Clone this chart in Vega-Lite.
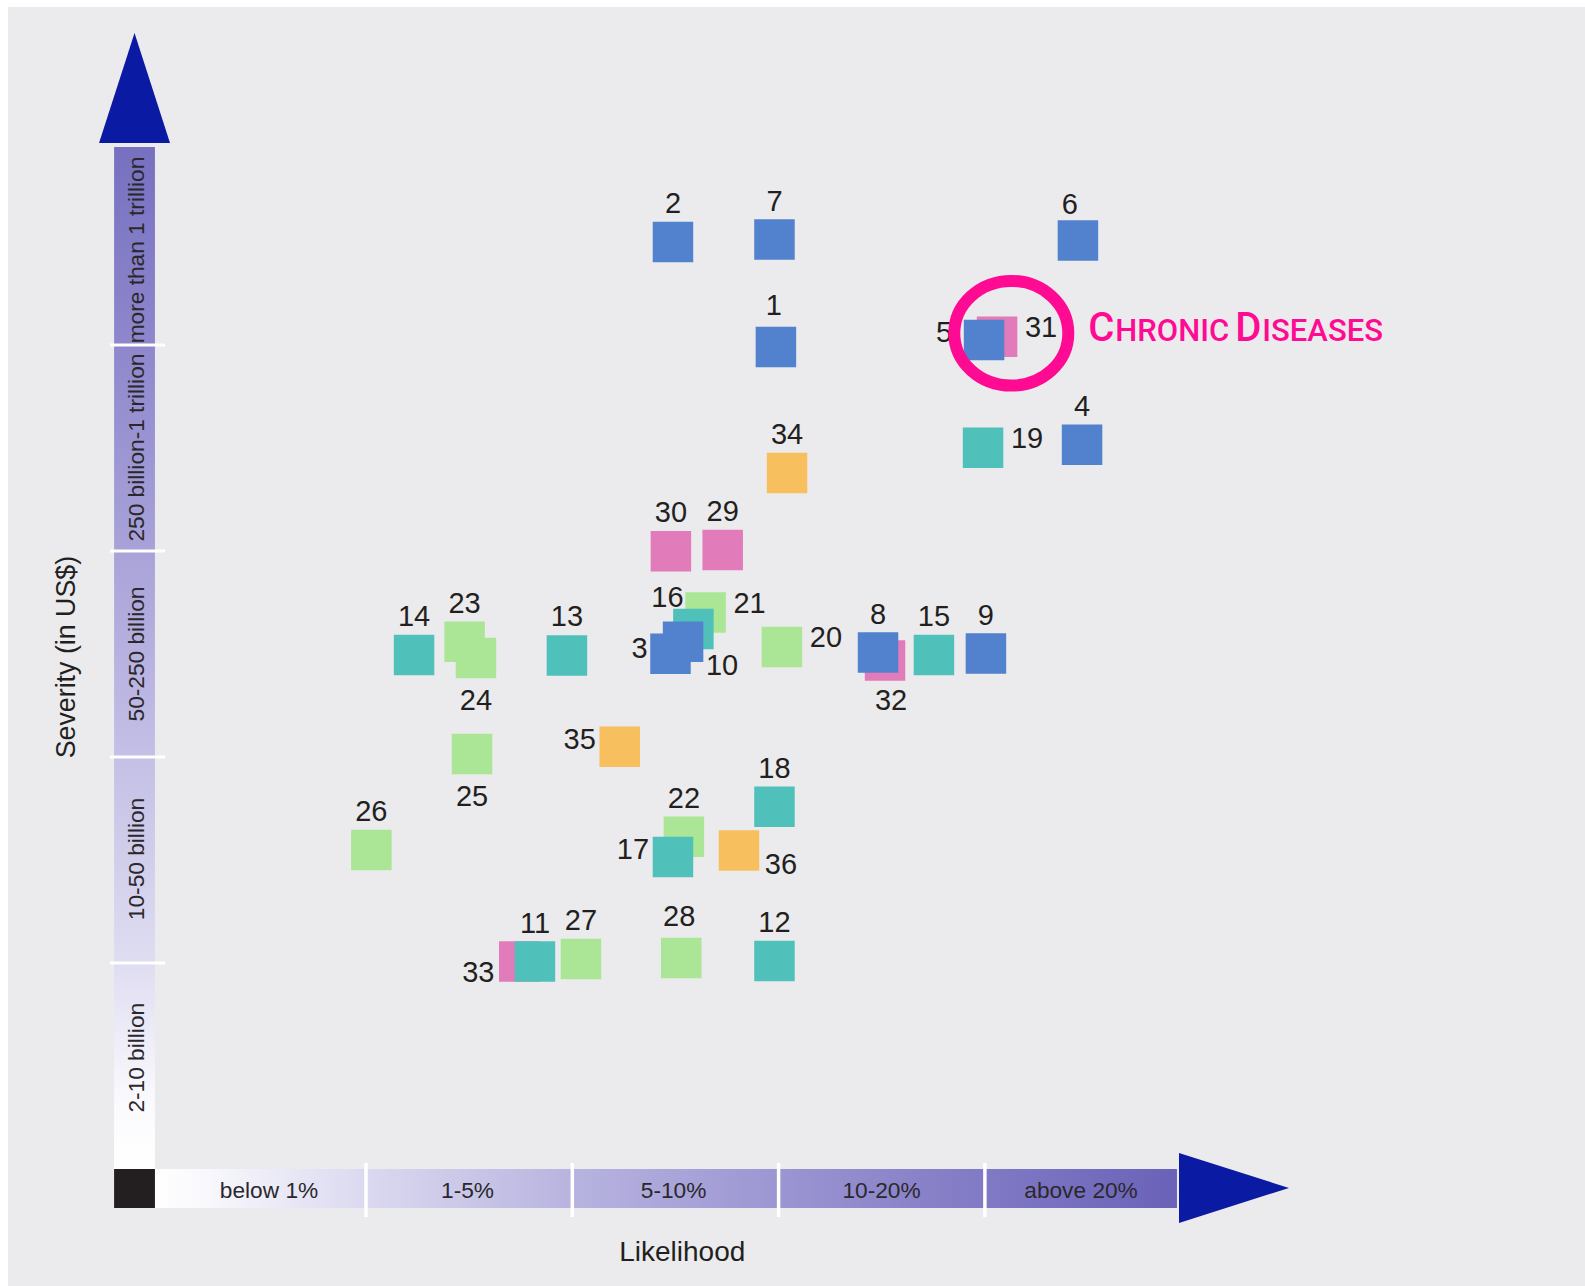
{
  "$schema": "https://vega.github.io/schema/vega-lite/v6.json",
  "width": 1577,
  "height": 1279,
  "autosize": {"type": "none"},
  "padding": {"left": 8, "top": 7, "right": 0, "bottom": 0},
  "background": "#ffffff",
  "config": {"view": {"stroke": null, "fill": "#EBEBED"}},
  "datasets": {
    "risks": [
      {"id": 29, "category": "Societal", "likelihood": 2.729, "severity": 3.005},
      {"id": 30, "category": "Societal", "likelihood": 2.478, "severity": 2.999},
      {"id": 31, "category": "Societal", "likelihood": 4.059, "severity": 4.040},
      {"id": 32, "category": "Societal", "likelihood": 3.516, "severity": 2.468},
      {"id": 33, "category": "Societal", "likelihood": 1.743, "severity": 1.007},
      {"id": 20, "category": "Environmental", "likelihood": 3.016, "severity": 2.534},
      {"id": 21, "category": "Environmental", "likelihood": 2.646, "severity": 2.701},
      {"id": 22, "category": "Environmental", "likelihood": 2.541, "severity": 1.613},
      {"id": 23, "category": "Environmental", "likelihood": 1.478, "severity": 2.560},
      {"id": 24, "category": "Environmental", "likelihood": 1.533, "severity": 2.481},
      {"id": 25, "category": "Environmental", "likelihood": 1.514, "severity": 2.015},
      {"id": 26, "category": "Environmental", "likelihood": 1.026, "severity": 1.549},
      {"id": 27, "category": "Environmental", "likelihood": 2.042, "severity": 1.019},
      {"id": 28, "category": "Environmental", "likelihood": 2.528, "severity": 1.024},
      {"id": 11, "category": "Geopolitical", "likelihood": 1.819, "severity": 1.007},
      {"id": 12, "category": "Geopolitical", "likelihood": 2.980, "severity": 1.010},
      {"id": 13, "category": "Geopolitical", "likelihood": 1.974, "severity": 2.493},
      {"id": 14, "category": "Geopolitical", "likelihood": 1.233, "severity": 2.495},
      {"id": 15, "category": "Geopolitical", "likelihood": 3.753, "severity": 2.495},
      {"id": 16, "category": "Geopolitical", "likelihood": 2.587, "severity": 2.621},
      {"id": 17, "category": "Geopolitical", "likelihood": 2.488, "severity": 1.515},
      {"id": 18, "category": "Geopolitical", "likelihood": 2.980, "severity": 1.759},
      {"id": 19, "category": "Geopolitical", "likelihood": 3.991, "severity": 3.501},
      {"id": 1, "category": "Economic", "likelihood": 2.987, "severity": 3.990},
      {"id": 2, "category": "Economic", "likelihood": 2.488, "severity": 4.500},
      {"id": 3, "category": "Economic", "likelihood": 2.476, "severity": 2.501},
      {"id": 4, "category": "Economic", "likelihood": 4.471, "severity": 3.516},
      {"id": 5, "category": "Economic", "likelihood": 3.996, "severity": 4.024},
      {"id": 6, "category": "Economic", "likelihood": 4.451, "severity": 4.507},
      {"id": 7, "category": "Economic", "likelihood": 2.980, "severity": 4.512},
      {"id": 8, "category": "Economic", "likelihood": 3.482, "severity": 2.507},
      {"id": 9, "category": "Economic", "likelihood": 4.005, "severity": 2.502},
      {"id": 10, "category": "Economic", "likelihood": 2.537, "severity": 2.559},
      {"id": 34, "category": "Technological", "likelihood": 3.041, "severity": 3.379},
      {"id": 35, "category": "Technological", "likelihood": 2.230, "severity": 2.050},
      {"id": 36, "category": "Technological", "likelihood": 2.808, "severity": 1.546}
    ],
    "bandsX": [
      {"label": "below 1%", "start": 0, "end": 1, "mid": 0.530},
      {"label": "1-5%", "start": 1, "end": 2, "mid": 1.492},
      {"label": "5-10%", "start": 2, "end": 3, "mid": 2.491},
      {"label": "10-20%", "start": 3, "end": 4, "mid": 3.499},
      {"label": "above 20%", "start": 4, "end": 4.931, "mid": 4.466}
    ],
    "bandsY": [
      {"label": "2-10 billion", "start": 0, "end": 1, "mid": 0.540},
      {"label": "10-50 billion", "start": 1, "end": 2, "mid": 1.505},
      {"label": "50-250 billion", "start": 2, "end": 3, "mid": 2.500},
      {"label": "250 billion-1 trillion", "start": 3, "end": 4, "mid": 3.502},
      {"label": "more than 1 trillion", "start": 4, "end": 4.961, "mid": 4.461}
    ],
    "axisBars": [
      {"part": "likelihood", "x0": -0.023, "x1": 4.931, "y0": -0.189, "y1": 0.0},
      {"part": "severity", "x0": -0.221, "x1": -0.023, "y0": 0.0, "y1": 4.961},
      {"part": "origin", "x0": -0.221, "x1": -0.023, "y0": -0.189, "y1": 0.0}
    ],
    "arrows": [
      {"arrow": "severity", "pos": 4.981, "from": -0.294, "to": 0.050},
      {"arrow": "severity", "pos": 5.515, "from": -0.122, "to": -0.122},
      {"arrow": "likelihood", "pos": 4.941, "from": -0.262, "to": 0.078},
      {"arrow": "likelihood", "pos": 5.474, "from": -0.092, "to": -0.092}
    ],
    "titles": [
      {"title": "Likelihood", "likelihood": 2.533, "severity": -0.445},
      {"title": "Severity (in US$)", "likelihood": -0.41, "severity": 2.485}
    ],
    "highlight": [
      {"note": "Chronic diseases", "likelihood": 4.128, "severity": 4.057}
    ]
  },
  "layer": [
    {
      "data": {"name": "axisBars"},
      "transform": [{"filter": "datum.part === 'likelihood'"}],
      "mark": {"type": "rect", "fill": {"gradient": "linear", "x1": 0, "y1": 0, "x2": 1, "y2": 0, "stops": [
        {"offset": 0, "color": "#ffffff"},
        {"offset": 0.05, "color": "#f8f8fd"},
        {"offset": 0.2, "color": "#dcdaf0"},
        {"offset": 0.4, "color": "#b9b5e0"},
        {"offset": 0.6, "color": "#9d97d3"},
        {"offset": 0.8, "color": "#827bc5"},
        {"offset": 1, "color": "#6a62b8"}]}},
      "encoding": {
        "x": {"field": "x0", "type": "quantitative", "scale": {"domain": [-0.7353, 6.9089], "nice": false, "zero": false}, "axis": null},
        "x2": {"field": "x1"},
        "y": {"field": "y0", "type": "quantitative", "scale": {"domain": [-0.568, 5.6408], "nice": false, "zero": false}, "axis": null},
        "y2": {"field": "y1"}
      }
    },
    {
      "data": {"name": "axisBars"},
      "transform": [{"filter": "datum.part === 'severity'"}],
      "mark": {"type": "rect", "fill": {"gradient": "linear", "x1": 0, "y1": 1, "x2": 0, "y2": 0, "stops": [
        {"offset": 0, "color": "#ffffff"},
        {"offset": 0.06, "color": "#fbfbfe"},
        {"offset": 0.2, "color": "#dfddf1"},
        {"offset": 0.4, "color": "#c4c0e6"},
        {"offset": 0.6, "color": "#a9a3d9"},
        {"offset": 0.8, "color": "#8f88cd"},
        {"offset": 1, "color": "#7770c0"}]}},
      "encoding": {
        "x": {"field": "x0", "type": "quantitative", "scale": {"domain": [-0.7353, 6.9089], "nice": false, "zero": false}, "axis": null},
        "x2": {"field": "x1"},
        "y": {"field": "y0", "type": "quantitative", "scale": {"domain": [-0.568, 5.6408], "nice": false, "zero": false}, "axis": null},
        "y2": {"field": "y1"}
      }
    },
    {
      "data": {"name": "axisBars"},
      "transform": [{"filter": "datum.part === 'origin'"}],
      "mark": {"type": "rect", "fill": "#231f20"},
      "encoding": {
        "x": {"field": "x0", "type": "quantitative", "scale": {"domain": [-0.7353, 6.9089], "nice": false, "zero": false}, "axis": null},
        "x2": {"field": "x1"},
        "y": {"field": "y0", "type": "quantitative", "scale": {"domain": [-0.568, 5.6408], "nice": false, "zero": false}, "axis": null},
        "y2": {"field": "y1"}
      }
    },
    {
      "data": {"name": "bandsX"},
      "transform": [{"filter": "datum.start > 0"}],
      "mark": {"type": "rule", "color": "#ffffff", "strokeWidth": 3.5},
      "encoding": {
        "x": {"field": "start", "type": "quantitative", "scale": {"domain": [-0.7353, 6.9089], "nice": false, "zero": false}, "axis": null},
        "y": {"datum": -0.233, "type": "quantitative", "scale": {"domain": [-0.568, 5.6408], "nice": false, "zero": false}, "axis": null},
        "y2": {"datum": 0.029}
      }
    },
    {
      "data": {"name": "bandsY"},
      "transform": [{"filter": "datum.start > 0"}],
      "mark": {"type": "rule", "color": "#ffffff", "strokeWidth": 3},
      "encoding": {
        "y": {"field": "start", "type": "quantitative", "scale": {"domain": [-0.568, 5.6408], "nice": false, "zero": false}, "axis": null},
        "x": {"datum": -0.241, "type": "quantitative", "scale": {"domain": [-0.7353, 6.9089], "nice": false, "zero": false}, "axis": null},
        "x2": {"datum": 0.026}
      }
    },
    {
      "data": {"name": "bandsX"},
      "mark": {"type": "text", "font": "Liberation Sans", "fontSize": 22.7, "color": "#2a282c", "align": "center", "baseline": "alphabetic"},
      "encoding": {
        "x": {"field": "mid", "type": "quantitative", "scale": {"domain": [-0.7353, 6.9089], "nice": false, "zero": false}, "axis": null},
        "y": {"datum": -0.142, "type": "quantitative", "scale": {"domain": [-0.568, 5.6408], "nice": false, "zero": false}, "axis": null},
        "text": {"field": "label", "type": "nominal"}
      }
    },
    {
      "data": {"name": "bandsY"},
      "mark": {"type": "text", "font": "Liberation Sans", "fontSize": 22.7, "color": "#2a282c", "align": "center", "baseline": "alphabetic", "angle": 270},
      "encoding": {
        "y": {"field": "mid", "type": "quantitative", "scale": {"domain": [-0.568, 5.6408], "nice": false, "zero": false}, "axis": null},
        "x": {"datum": -0.076, "type": "quantitative", "scale": {"domain": [-0.7353, 6.9089], "nice": false, "zero": false}, "axis": null},
        "text": {"field": "label", "type": "nominal"}
      }
    },
    {
      "data": {"name": "arrows"},
      "transform": [{"filter": "datum.arrow === 'severity'"}],
      "mark": {"type": "area", "orient": "horizontal", "color": "#0A1AA3", "opacity": 1},
      "encoding": {
        "y": {"field": "pos", "type": "quantitative", "scale": {"domain": [-0.568, 5.6408], "nice": false, "zero": false}, "axis": null},
        "x": {"field": "from", "type": "quantitative", "scale": {"domain": [-0.7353, 6.9089], "nice": false, "zero": false}, "axis": null},
        "x2": {"field": "to"}
      }
    },
    {
      "data": {"name": "arrows"},
      "transform": [{"filter": "datum.arrow === 'likelihood'"}],
      "mark": {"type": "area", "orient": "vertical", "color": "#0A1AA3", "opacity": 1},
      "encoding": {
        "x": {"field": "pos", "type": "quantitative", "scale": {"domain": [-0.7353, 6.9089], "nice": false, "zero": false}, "axis": null},
        "y": {"field": "from", "type": "quantitative", "scale": {"domain": [-0.568, 5.6408], "nice": false, "zero": false}, "axis": null},
        "y2": {"field": "to"}
      }
    },
    {
      "data": {"name": "titles"},
      "transform": [{"filter": "datum.title === 'Likelihood'"}],
      "mark": {"type": "text", "font": "Liberation Sans", "fontSize": 28, "color": "#231f20", "align": "center", "baseline": "alphabetic"},
      "encoding": {
        "x": {"field": "likelihood", "type": "quantitative", "scale": {"domain": [-0.7353, 6.9089], "nice": false, "zero": false}, "axis": null},
        "y": {"field": "severity", "type": "quantitative", "scale": {"domain": [-0.568, 5.6408], "nice": false, "zero": false}, "axis": null},
        "text": {"field": "title", "type": "nominal"}
      }
    },
    {
      "data": {"name": "titles"},
      "transform": [{"filter": "datum.title !== 'Likelihood'"}],
      "mark": {"type": "text", "font": "Liberation Sans", "fontSize": 26.8, "color": "#231f20", "align": "center", "baseline": "alphabetic", "angle": 270},
      "encoding": {
        "x": {"field": "likelihood", "type": "quantitative", "scale": {"domain": [-0.7353, 6.9089], "nice": false, "zero": false}, "axis": null},
        "y": {"field": "severity", "type": "quantitative", "scale": {"domain": [-0.568, 5.6408], "nice": false, "zero": false}, "axis": null},
        "text": {"field": "title", "type": "nominal"}
      }
    },
    {
      "data": {"name": "risks"},
      "mark": {"type": "point", "shape": "square", "size": 1640, "filled": true, "opacity": 1},
      "encoding": {
        "x": {"field": "likelihood", "type": "quantitative", "scale": {"domain": [-0.7353, 6.9089], "nice": false, "zero": false}, "axis": null},
        "y": {"field": "severity", "type": "quantitative", "scale": {"domain": [-0.568, 5.6408], "nice": false, "zero": false}, "axis": null},
        "color": {"field": "category", "type": "nominal", "scale": {"domain": ["Economic", "Geopolitical", "Environmental", "Societal", "Technological"], "range": ["#5281CD", "#50C0BA", "#AAE695", "#E27BBA", "#F8BF5E"]}, "legend": null}
      }
    },
    {
      "data": {"name": "risks"},
      "transform": [{"filter": {"field": "id", "oneOf": [2, 4, 7, 8, 9, 11, 12, 13, 14, 15, 18, 22, 23, 26, 27, 29, 30, 34]}}],
      "mark": {"type": "text", "font": "Liberation Sans", "fontSize": 29, "color": "#231f20", "align": "center", "baseline": "middle", "dy": -38},
      "encoding": {
        "x": {"field": "likelihood", "type": "quantitative", "scale": {"domain": [-0.7353, 6.9089], "nice": false, "zero": false}, "axis": null},
        "y": {"field": "severity", "type": "quantitative", "scale": {"domain": [-0.568, 5.6408], "nice": false, "zero": false}, "axis": null},
        "text": {"field": "id", "type": "nominal"}
      }
    },
    {
      "data": {"name": "risks"},
      "transform": [{"filter": {"field": "id", "oneOf": [1, 28]}}],
      "mark": {"type": "text", "font": "Liberation Sans", "fontSize": 29, "color": "#231f20", "align": "center", "baseline": "middle", "dx": -2, "dy": -41},
      "encoding": {
        "x": {"field": "likelihood", "type": "quantitative", "scale": {"domain": [-0.7353, 6.9089], "nice": false, "zero": false}, "axis": null},
        "y": {"field": "severity", "type": "quantitative", "scale": {"domain": [-0.568, 5.6408], "nice": false, "zero": false}, "axis": null},
        "text": {"field": "id", "type": "nominal"}
      }
    },
    {
      "data": {"name": "risks"},
      "transform": [{"filter": {"field": "id", "oneOf": [6]}}],
      "mark": {"type": "text", "font": "Liberation Sans", "fontSize": 29, "color": "#231f20", "align": "center", "baseline": "middle", "dx": -8, "dy": -36},
      "encoding": {
        "x": {"field": "likelihood", "type": "quantitative", "scale": {"domain": [-0.7353, 6.9089], "nice": false, "zero": false}, "axis": null},
        "y": {"field": "severity", "type": "quantitative", "scale": {"domain": [-0.568, 5.6408], "nice": false, "zero": false}, "axis": null},
        "text": {"field": "id", "type": "nominal"}
      }
    },
    {
      "data": {"name": "risks"},
      "transform": [{"filter": {"field": "id", "oneOf": [5, 17, 35]}}],
      "mark": {"type": "text", "font": "Liberation Sans", "fontSize": 29, "color": "#231f20", "align": "center", "baseline": "middle", "dx": -40, "dy": -7},
      "encoding": {
        "x": {"field": "likelihood", "type": "quantitative", "scale": {"domain": [-0.7353, 6.9089], "nice": false, "zero": false}, "axis": null},
        "y": {"field": "severity", "type": "quantitative", "scale": {"domain": [-0.568, 5.6408], "nice": false, "zero": false}, "axis": null},
        "text": {"field": "id", "type": "nominal"}
      }
    },
    {
      "data": {"name": "risks"},
      "transform": [{"filter": {"field": "id", "oneOf": [3]}}],
      "mark": {"type": "text", "font": "Liberation Sans", "fontSize": 29, "color": "#231f20", "align": "center", "baseline": "middle", "dx": -31, "dy": -5},
      "encoding": {
        "x": {"field": "likelihood", "type": "quantitative", "scale": {"domain": [-0.7353, 6.9089], "nice": false, "zero": false}, "axis": null},
        "y": {"field": "severity", "type": "quantitative", "scale": {"domain": [-0.568, 5.6408], "nice": false, "zero": false}, "axis": null},
        "text": {"field": "id", "type": "nominal"}
      }
    },
    {
      "data": {"name": "risks"},
      "transform": [{"filter": {"field": "id", "oneOf": [19, 20, 21, 31]}}],
      "mark": {"type": "text", "font": "Liberation Sans", "fontSize": 29, "color": "#231f20", "align": "center", "baseline": "middle", "dx": 44, "dy": -9},
      "encoding": {
        "x": {"field": "likelihood", "type": "quantitative", "scale": {"domain": [-0.7353, 6.9089], "nice": false, "zero": false}, "axis": null},
        "y": {"field": "severity", "type": "quantitative", "scale": {"domain": [-0.568, 5.6408], "nice": false, "zero": false}, "axis": null},
        "text": {"field": "id", "type": "nominal"}
      }
    },
    {
      "data": {"name": "risks"},
      "transform": [{"filter": {"field": "id", "oneOf": [24, 25]}}],
      "mark": {"type": "text", "font": "Liberation Sans", "fontSize": 29, "color": "#231f20", "align": "center", "baseline": "middle", "dy": 43},
      "encoding": {
        "x": {"field": "likelihood", "type": "quantitative", "scale": {"domain": [-0.7353, 6.9089], "nice": false, "zero": false}, "axis": null},
        "y": {"field": "severity", "type": "quantitative", "scale": {"domain": [-0.568, 5.6408], "nice": false, "zero": false}, "axis": null},
        "text": {"field": "id", "type": "nominal"}
      }
    },
    {
      "data": {"name": "risks"},
      "transform": [{"filter": {"field": "id", "oneOf": [32]}}],
      "mark": {"type": "text", "font": "Liberation Sans", "fontSize": 29, "color": "#231f20", "align": "center", "baseline": "middle", "dx": 6, "dy": 40},
      "encoding": {
        "x": {"field": "likelihood", "type": "quantitative", "scale": {"domain": [-0.7353, 6.9089], "nice": false, "zero": false}, "axis": null},
        "y": {"field": "severity", "type": "quantitative", "scale": {"domain": [-0.568, 5.6408], "nice": false, "zero": false}, "axis": null},
        "text": {"field": "id", "type": "nominal"}
      }
    },
    {
      "data": {"name": "risks"},
      "transform": [{"filter": {"field": "id", "oneOf": [10]}}],
      "mark": {"type": "text", "font": "Liberation Sans", "fontSize": 29, "color": "#231f20", "align": "center", "baseline": "middle", "dx": 39, "dy": 24},
      "encoding": {
        "x": {"field": "likelihood", "type": "quantitative", "scale": {"domain": [-0.7353, 6.9089], "nice": false, "zero": false}, "axis": null},
        "y": {"field": "severity", "type": "quantitative", "scale": {"domain": [-0.568, 5.6408], "nice": false, "zero": false}, "axis": null},
        "text": {"field": "id", "type": "nominal"}
      }
    },
    {
      "data": {"name": "risks"},
      "transform": [{"filter": {"field": "id", "oneOf": [36]}}],
      "mark": {"type": "text", "font": "Liberation Sans", "fontSize": 29, "color": "#231f20", "align": "center", "baseline": "middle", "dx": 42, "dy": 14},
      "encoding": {
        "x": {"field": "likelihood", "type": "quantitative", "scale": {"domain": [-0.7353, 6.9089], "nice": false, "zero": false}, "axis": null},
        "y": {"field": "severity", "type": "quantitative", "scale": {"domain": [-0.568, 5.6408], "nice": false, "zero": false}, "axis": null},
        "text": {"field": "id", "type": "nominal"}
      }
    },
    {
      "data": {"name": "risks"},
      "transform": [{"filter": {"field": "id", "oneOf": [33]}}],
      "mark": {"type": "text", "font": "Liberation Sans", "fontSize": 29, "color": "#231f20", "align": "center", "baseline": "middle", "dx": -41, "dy": 11},
      "encoding": {
        "x": {"field": "likelihood", "type": "quantitative", "scale": {"domain": [-0.7353, 6.9089], "nice": false, "zero": false}, "axis": null},
        "y": {"field": "severity", "type": "quantitative", "scale": {"domain": [-0.568, 5.6408], "nice": false, "zero": false}, "axis": null},
        "text": {"field": "id", "type": "nominal"}
      }
    },
    {
      "data": {"name": "risks"},
      "transform": [{"filter": {"field": "id", "oneOf": [16]}}],
      "mark": {"type": "text", "font": "Liberation Sans", "fontSize": 29, "color": "#231f20", "align": "center", "baseline": "middle", "dx": -26, "dy": -31},
      "encoding": {
        "x": {"field": "likelihood", "type": "quantitative", "scale": {"domain": [-0.7353, 6.9089], "nice": false, "zero": false}, "axis": null},
        "y": {"field": "severity", "type": "quantitative", "scale": {"domain": [-0.568, 5.6408], "nice": false, "zero": false}, "axis": null},
        "text": {"field": "id", "type": "nominal"}
      }
    },
    {
      "data": {"name": "highlight"},
      "mark": {"type": "point", "shape": "M 1 0 A 1 0.918 0 1 1 -1 0 A 1 0.918 0 1 1 1 0 Z", "size": 12996, "filled": false, "stroke": "#FF0A93", "strokeWidth": 12, "opacity": 1},
      "encoding": {
        "x": {"field": "likelihood", "type": "quantitative", "scale": {"domain": [-0.7353, 6.9089], "nice": false, "zero": false}, "axis": null},
        "y": {"field": "severity", "type": "quantitative", "scale": {"domain": [-0.568, 5.6408], "nice": false, "zero": false}, "axis": null}
      }
    },
    {
      "data": {"name": "highlight"},
      "mark": {"type": "text", "font": "Roboto", "fontWeight": 500, "fontSize": 40, "color": "#FF0A93", "align": "left", "baseline": "alphabetic", "dx": 77, "dy": 8, "text": "C"},
      "encoding": {
        "x": {"field": "likelihood", "type": "quantitative", "scale": {"domain": [-0.7353, 6.9089], "nice": false, "zero": false}, "axis": null},
        "y": {"field": "severity", "type": "quantitative", "scale": {"domain": [-0.568, 5.6408], "nice": false, "zero": false}, "axis": null}
      }
    },
    {
      "data": {"name": "highlight"},
      "mark": {"type": "text", "font": "Roboto", "fontWeight": 500, "fontSize": 31, "color": "#FF0A93", "align": "left", "baseline": "alphabetic", "dx": 104, "dy": 8, "text": "HRONIC"},
      "encoding": {
        "x": {"field": "likelihood", "type": "quantitative", "scale": {"domain": [-0.7353, 6.9089], "nice": false, "zero": false}, "axis": null},
        "y": {"field": "severity", "type": "quantitative", "scale": {"domain": [-0.568, 5.6408], "nice": false, "zero": false}, "axis": null}
      }
    },
    {
      "data": {"name": "highlight"},
      "mark": {"type": "text", "font": "Roboto", "fontWeight": 500, "fontSize": 40, "color": "#FF0A93", "align": "left", "baseline": "alphabetic", "dx": 224, "dy": 8, "text": "D"},
      "encoding": {
        "x": {"field": "likelihood", "type": "quantitative", "scale": {"domain": [-0.7353, 6.9089], "nice": false, "zero": false}, "axis": null},
        "y": {"field": "severity", "type": "quantitative", "scale": {"domain": [-0.568, 5.6408], "nice": false, "zero": false}, "axis": null}
      }
    },
    {
      "data": {"name": "highlight"},
      "mark": {"type": "text", "font": "Roboto", "fontWeight": 500, "fontSize": 31, "color": "#FF0A93", "align": "left", "baseline": "alphabetic", "dx": 251, "dy": 8, "text": "ISEASES"},
      "encoding": {
        "x": {"field": "likelihood", "type": "quantitative", "scale": {"domain": [-0.7353, 6.9089], "nice": false, "zero": false}, "axis": null},
        "y": {"field": "severity", "type": "quantitative", "scale": {"domain": [-0.568, 5.6408], "nice": false, "zero": false}, "axis": null}
      }
    }
  ]
}
